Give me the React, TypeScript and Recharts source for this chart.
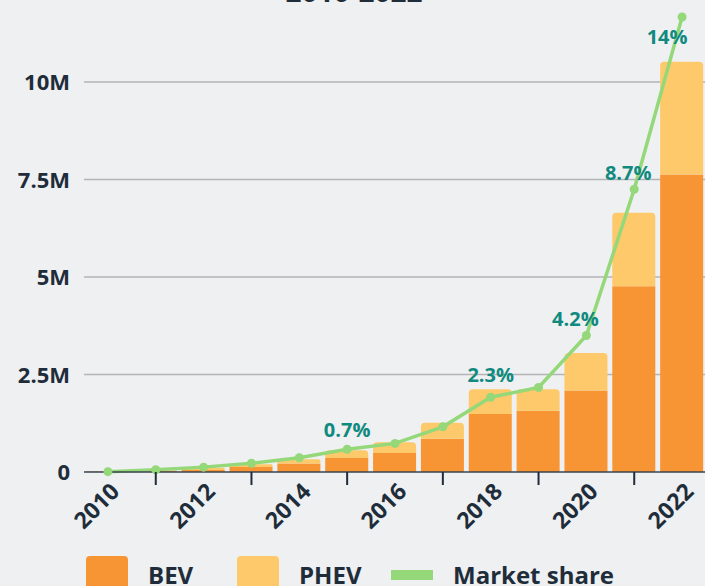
import React from 'react';
import { ComposedChart, Bar, Line, XAxis, YAxis, CartesianGrid, LabelList } from 'recharts';

// EV sales (millions) and market share (%)
const years = [2010, 2011, 2012, 2013, 2014, 2015, 2016, 2017, 2018, 2019, 2020, 2021, 2022];
const bevSales = [0.01, 0.03, 0.05, 0.13, 0.22, 0.36, 0.49, 0.85, 1.49, 1.57, 2.09, 4.76, 7.63];
const phevSales = [0.005, 0.01, 0.06, 0.07, 0.11, 0.2, 0.27, 0.41, 0.63, 0.55, 0.96, 1.89, 2.89];
const marketShare = [0.01, 0.07, 0.15, 0.27, 0.44, 0.7, 0.88, 1.39, 2.3, 2.6, 4.2, 8.7, 14];
const labeledYears = [2015, 2018, 2020, 2021, 2022];
const yTicks = [0, 2.5, 5, 7.5, 10];

const BEV_COLOR = '#f79433';
const PHEV_COLOR = '#fec96a';
const LINE_COLOR = '#95d87a';
const TEAL = '#108a7e';
const DARK = '#1f2d3a';
const BG = '#eef0f2';
const FONT = '"Open Sans", "Noto Sans", sans-serif';

const data = years.map((year, i) => ({
  year,
  bev: bevSales[i],
  phev: phevSales[i],
  share: marketShare[i],
}));

// nudges so the labels sit clear of the steep part of the line
const labelNudge: Record<number, [number, number]> = {
  2015: [0, -12],
  2018: [0, -15],
  2020: [-11, -10],
  2021: [-6, -9],
  2022: [-15, 27],
};

const fmtM = (v: number) => (v === 0 ? '0' : `${v}M`);

const YTick = (props: any) => {
  const { y, payload } = props;
  return (
    <text x={70} y={y + 8} textAnchor="end" fill={DARK} fontSize={22} fontWeight={700} fontFamily={FONT}>
      {fmtM(payload.value)}
    </text>
  );
};

const XTick = (props: any) => {
  const { x, y, payload } = props;
  const yr = Number(payload.value);
  if (yr % 2 === 1) {
    return <line x1={x} x2={x} y1={y} y2={y + 13} stroke={DARK} strokeWidth={2} />;
  }
  const ax = x + 13;
  const ay = y + 21;
  return (
    <text
      x={ax}
      y={ay}
      textAnchor="end"
      transform={`rotate(-45 ${ax} ${ay})`}
      fill={DARK}
      fontSize={23}
      fontWeight={700}
      fontFamily={FONT}
    >
      {yr}
    </text>
  );
};

const ShareLabel = (props: any) => {
  const { x, y, index, value } = props;
  const yr = years[index];
  if (!labeledYears.includes(yr)) return null;
  const [dx, dy] = labelNudge[yr] || [0, -12];
  return (
    <text x={x + dx} y={y + dy} textAnchor="middle" fill={TEAL} fontSize={20} fontWeight={700} fontFamily={FONT}>
      {`${value}%`}
    </text>
  );
};

const legendItems = [
  { name: 'BEV', color: BEV_COLOR, kind: 'box', left: 86 },
  { name: 'PHEV', color: PHEV_COLOR, kind: 'box', left: 237 },
  { name: 'Market share', color: LINE_COLOR, kind: 'line', left: 391 },
];

export default function App() {
  return (
    <div
      style={{
        position: 'absolute',
        left: 0,
        top: 0,
        width: 705,
        height: 586,
        overflow: 'hidden',
        background: BG,
        fontFamily: FONT,
      }}
    >
      <div
        style={{
          position: 'absolute',
          left: 0,
          width: 708,
          top: -23,
          height: 28,
          lineHeight: '28px',
          textAlign: 'center',
          fontSize: 28,
          fontWeight: 700,
          color: DARK,
        }}
      >
        2010-2022
      </div>
      <ComposedChart
        width={720}
        height={586}
        data={data}
        margin={{ top: 4, right: 14, left: 0, bottom: 0 }}
        barSize={43}
      >
        <CartesianGrid
          yAxisId="left"
          vertical={false}
          stroke="#b4b4b6"
          strokeWidth={1.5}
          horizontalValues={[2.5, 5, 7.5, 10]}
        />
        <XAxis
          dataKey="year"
          height={114}
          interval={0}
          axisLine={{ stroke: '#3a4550', strokeWidth: 1.5 }}
          tickLine={false}
          tickSize={0}
          tickMargin={0}
          tick={<XTick />}
        />
        <YAxis
          yAxisId="left"
          width={84}
          domain={[0, 12]}
          ticks={yTicks}
          axisLine={false}
          tickLine={false}
          tick={<YTick />}
        />
        <YAxis yAxisId="right" orientation="right" hide domain={[0, 14.4]} />
        <Bar yAxisId="left" dataKey="bev" stackId="ev" fill={BEV_COLOR} isAnimationActive={false} />
        <Bar yAxisId="left" dataKey="phev" stackId="ev" fill={PHEV_COLOR} radius={[4, 4, 0, 0]} isAnimationActive={false} />
        <Line
          yAxisId="right"
          dataKey="share"
          type="linear"
          stroke={LINE_COLOR}
          strokeWidth={3.5}
          dot={{ r: 4.5, fill: LINE_COLOR, stroke: LINE_COLOR, strokeWidth: 0 }}
          activeDot={false}
          isAnimationActive={false}
        >
          <LabelList dataKey="share" content={<ShareLabel />} />
        </Line>
      </ComposedChart>
      {legendItems.map((it) => (
        <div key={it.name} style={{ position: 'absolute', left: it.left, top: 556, height: 40, display: 'flex' }}>
          {it.kind === 'box' ? (
            <div style={{ width: 42, height: 40, background: it.color, borderRadius: 4 }} />
          ) : (
            <div style={{ width: 42, height: 10, marginTop: 14, background: it.color }} />
          )}
          <div
            style={{
              marginLeft: 20,
              fontSize: 24,
              fontWeight: 700,
              color: DARK,
              lineHeight: '24px',
              marginTop: 7,
              whiteSpace: 'nowrap',
            }}
          >
            {it.name}
          </div>
        </div>
      ))}
    </div>
  );
}
